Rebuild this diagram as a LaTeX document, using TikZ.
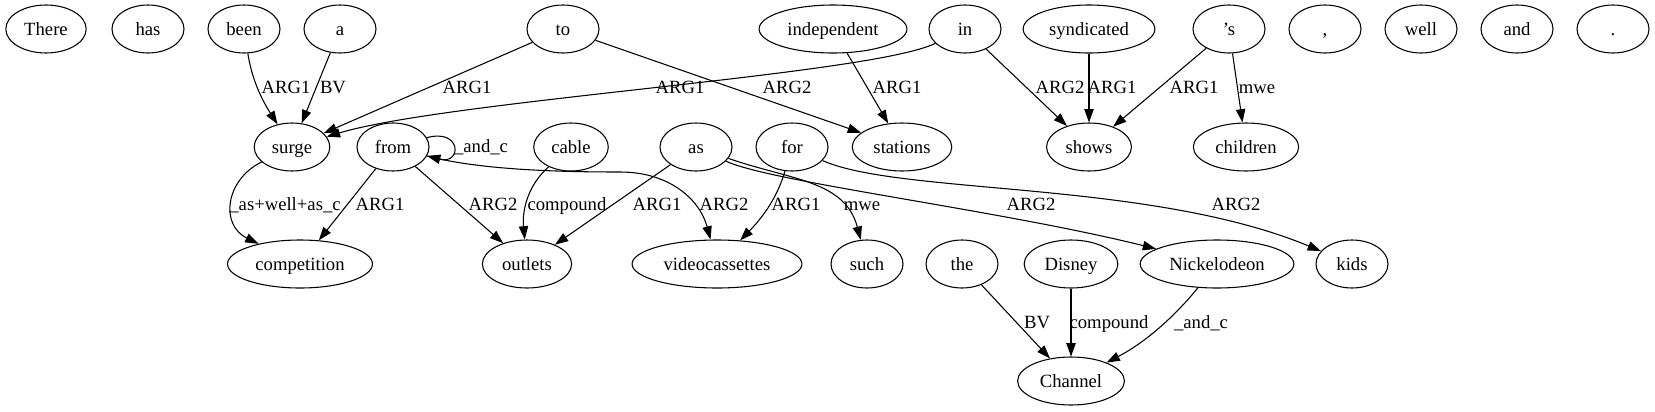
\documentclass[tikz,border=0pt]{standalone}
\usepackage{fontspec}
\setmainfont{Liberation Serif}
\usetikzlibrary{arrows.meta,shapes.geometric}

\begin{document}
\begin{tikzpicture}[x=0.75pt, y=-0.75pt,
  every node/.style={font=\fontsize{14}{16}\selectfont},
  word/.style={draw, ellipse, line width=0.8pt, minimum width=54pt, minimum height=36pt,
    inner xsep=5pt, inner ysep=2pt, text height=10pt, text depth=1pt},
  rel/.style={line width=0.8pt, -{Triangle[length=10pt, width=7pt]}},
  rellbl/.style={anchor=base, inner sep=0pt}]

  \useasboundingbox (0,0) rectangle (1655,411);

  % words
  \node[word] (there) at (46,29) {There};
  \node[word] (has) at (148,29) {has};
  \node[word] (been) at (244,29) {been};
  \node[word] (a) at (340,29) {a};
  \node[word] (to) at (563,29) {to};
  \node[word] (indep) at (833,29) {independent};
  \node[word] (inw) at (965,29) {in};
  \node[word] (synd) at (1089,29) {syndicated};
  \node[word] (poss) at (1229,29) {’s};
  \node[word] (comma) at (1325,29) {,};
  \node[word] (well) at (1421,29) {well};
  \node[word] (and) at (1517,29) {and};
  \node[word] (period) at (1613,29) {.};

  \node[word] (surge) at (292,147) {surge};
  \node[word] (from) at (393,147) {from};
  \node[word] (cable) at (571,147) {cable};
  \node[word] (as) at (696,147) {as};
  \node[word] (for) at (792,147) {for};
  \node[word] (stations) at (902,147) {stations};
  \node[word] (shows) at (1089,147) {shows};
  \node[word] (children) at (1246,147) {children};

  \node[word] (competition) at (300,264) {competition};
  \node[word] (outlets) at (527,264) {outlets};
  \node[word] (video) at (717,264) {videocassettes};
  \node[word] (such) at (867,264) {such};
  \node[word] (the) at (962,264) {the};
  \node[word] (disney) at (1071,264) {Disney};
  \node[word] (nick) at (1217,264) {Nickelodeon};
  \node[word] (kids) at (1352,264) {kids};

  \node[word] (channel) at (1071,381) {Channel};

  % relations
  \draw[rel] (been) .. controls (252,80) and (262,100) .. (surge);
  \draw[rel] (a) -- (surge);
  \draw[rel] (to) -- (surge);
  \draw[rel] (inw) .. controls (870,75) and (450,100) .. (surge);
  \draw[rel] (to) -- (stations);
  \draw[rel] (indep) -- (stations);
  \draw[rel] (inw) -- (shows);
  \draw[rel] (synd) -- (shows);
  \draw[rel] (poss) -- (shows);
  \draw[rel] (poss) -- (children);
  \draw[rel] (surge) .. controls (225,180) and (220,225) .. (competition);
  \draw[rel] (from) -- (competition);
  \draw[rel] (from) .. controls (462,128) and (462,165) .. (from);
  \draw[rel] (from) -- (outlets);
  \draw[rel] (cable) .. controls (528,185) and (522,210) .. (outlets);
  \draw[rel] (as) -- (outlets);
  \draw[rel] (from) .. controls (480,170) and (560,172) .. (620,172)
    .. controls (670,172) and (700,200) .. (video);
  \draw[rel] (for) .. controls (778,195) and (765,215) .. (video);
  \draw[rel] (as) .. controls (790,180) and (845,180) .. (such);
  \draw[rel] (as) .. controls (770,182) and (1000,210) .. (nick);
  \draw[rel] (for) .. controls (900,195) and (1150,180) .. (kids);
  \draw[rel] (the) -- (channel);
  \draw[rel] (disney) -- (channel);
  \draw[rel] (nick) .. controls (1180,310) and (1150,340) .. (channel);

  % relation labels
  \node[rellbl] (lbeen) at (286,93) {ARG1};
  \node[rellbl] (la) at (333,93) {BV};
  \node[rellbl] (lto) at (467,93) {ARG1};
  \node[rellbl] (linsurge) at (680,93) {ARG1};
  \node[rellbl] (ltost) at (787,93) {ARG2};
  \node[rellbl] (lindep) at (897,93) {ARG1};
  \node[rellbl] (linshows) at (1060,93) {ARG2};
  \node[rellbl] (lsynd) at (1112,93) {ARG1};
  \node[rellbl] (lposs) at (1194,93) {ARG1};
  \node[rellbl] (lmwe) at (1257,93) {mwe};
  \node[rellbl] (lsurge) at (285,210) {\_as+well+as\_c};
  \node[rellbl] (lfromcomp) at (380,210) {ARG1};
  \node[rellbl] (lloop) at (481,152) {\_and\_c};
  \node[rellbl] (lfromout) at (493,210) {ARG2};
  \node[rellbl] (lcable) at (567,210) {compound};
  \node[rellbl] (lasout) at (657,210) {ARG1};
  \node[rellbl] (lfromvid) at (724,210) {ARG2};
  \node[rellbl] (lforvid) at (796,210) {ARG1};
  \node[rellbl] (lsuch) at (862,210) {mwe};
  \node[rellbl] (lnick) at (1031,210) {ARG2};
  \node[rellbl] (lkids) at (1236,210) {ARG2};
  \node[rellbl] (lthe) at (1037,328) {BV};
  \node[rellbl] (ldisney) at (1109,328) {compound};
  \node[rellbl] (lchannel) at (1201,328) {\_and\_c};

\end{tikzpicture}
\end{document}
